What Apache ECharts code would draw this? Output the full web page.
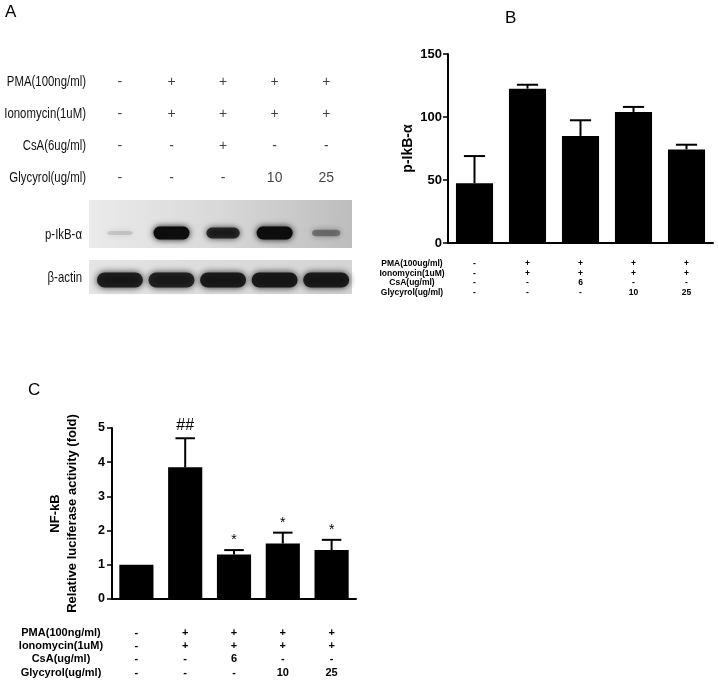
<!DOCTYPE html>
<html>
<head>
<meta charset="utf-8">
<script src="https://cdn.jsdelivr.net/npm/echarts@6/dist/echarts.min.js"></script>
<style>
  html, body { margin: 0; padding: 0; background: #fff; }
  #chart { width: 718px; height: 684px; }
</style>
</head>
<body>
<div id="chart"></div>
<script>
// lanes of the blot / groups of the bar charts
const lanes = [1, 2, 3, 4, 5];

// panel A - treatment table over the blot
const rowNamesA = ['PMA(100ng/ml)', 'Ionomycin(1uM)', 'CsA(6ug/ml)', 'Glycyrol(ug/ml)'];
const pmaA = ['-', '+', '+', '+', '+'];
const ionoA = ['-', '+', '+', '+', '+'];
const csaA = ['-', '-', '+', '-', '-'];
const glyA = ['-', '-', '-', '10', '25'];
const blotNames = ['p-IkB-α', 'β-actin'];

// panel A - band strength (0..1)
const pIkbBand = [0.12, 1.0, 0.78, 1.0, 0.36];
const actinBand = [0.9, 0.88, 0.92, 0.95, 0.92];

// panel B - p-IkB-a densitometry
const meansB = [47.5, 122.5, 85, 104, 74.3];
const errB = [21.5, 3.1, 12.4, 4, 3.7];
const rowNamesB = ['PMA(100ug/ml)', 'Ionomycin(1uM)', 'CsA(ug/ml)', 'Glycyrol(ug/ml)'];
const pmaB = ['-', '+', '+', '+', '+'];
const ionoB = ['-', '+', '+', '+', '+'];
const csaB = ['-', '-', '6', '-', '-'];
const glyB = ['-', '-', '-', '10', '25'];

// panel C - NF-kB luciferase
const meansC = [1.0, 3.85, 1.3, 1.62, 1.43];
const errC = [0, 0.85, 0.13, 0.32, 0.3];
const sigC = ['', '##', '*', '*', '*'];
const rowNamesC = ['PMA(100ng/ml)', 'Ionomycin(1uM)', 'CsA(ug/ml)', 'Glycyrol(ug/ml)'];
const pmaC = ['-', '+', '+', '+', '+'];
const ionoC = ['-', '+', '+', '+', '+'];
const csaC = ['-', '-', '6', '-', '-'];
const glyC = ['-', '-', '-', '10', '25'];

const arial = "'Liberation Sans', Arial, sans-serif";

// layout of panel A
const tableGrid = {left: 89, top: 66, width: 263, height: 128};
const pIkbGrid = {left: 89, top: 216, width: 263, height: 34};
const actinGrid = {left: 89, top: 263, width: 263, height: 34};

const chart = echarts.init(document.getElementById('chart'));

const colLabels = (rows) => lanes.map((_, i) => rows.map(r => r[i]).join('\n'));

const tableA = [];
[pmaA, ionoA, csaA, glyA].forEach((row, r) => {
  row.forEach((txt, i) => tableA.push({value: [lanes[i], r], name: txt}));
});

// tall narrow lettering of the blot panel
const narrowText = (text, x, y) => ({
  type: 'text', x, y, scaleX: 0.76, z: 10,
  style: {text, align: 'right', verticalAlign: 'middle', fontFamily: arial, fontSize: 15, fill: '#111'}
});

const rowLabelsA = rowNamesA.map((t, r) =>
  narrowText(t, tableGrid.left - 3, tableGrid.top + (r + 0.5) * tableGrid.height / rowNamesA.length));
const blotLabels = [
  narrowText(blotNames[0], 82, 235),
  narrowText(blotNames[1], 82, 278)
];

const bandPath = 'path://M5,0 L25,0 A5,5 0 0 1 25,10 L5,10 A5,5 0 0 1 5,0 Z';

const errRender = (sig) => (params, api) => {
  const i = api.value(0);
  const m = api.value(1);
  const e = api.value(2);
  const base = api.coord([i, m]);
  const top = api.coord([i, m + e]);
  const half = api.size([1, 0])[0] * 0.2;
  const children = [];
  if (e > 0) {
    children.push(
      {type: 'line', shape: {x1: top[0], y1: top[1], x2: base[0], y2: base[1]}, style: {stroke: '#000', lineWidth: 2}},
      {type: 'line', shape: {x1: top[0] - half, y1: top[1], x2: top[0] + half, y2: top[1]}, style: {stroke: '#000', lineWidth: 2}}
    );
  }
  if (sig && sig[params.dataIndex]) {
    const s = sig[params.dataIndex];
    children.push({
      type: 'text',
      style: {
        text: s, x: top[0], y: top[1] - (s === '##' ? 5 : 3), align: 'center', verticalAlign: 'bottom',
        fontFamily: arial, fontSize: s === '##' ? 16 : 14, fill: '#000'
      }
    });
  }
  return {type: 'group', children};
};

const hiddenLane = (g) => ({gridIndex: g, type: 'value', min: 0.4, max: 5.5, show: false});
const hiddenRow = (g, n) => ({
  gridIndex: g, type: 'category', inverse: true, data: Array.from({length: n}, (_, k) => k), show: false
});

const barXAxis = (g, rows, fontSize, lineHeight, margin) => ({
  gridIndex: g, type: 'category', data: colLabels(rows),
  axisLine: {lineStyle: {color: '#000', width: 2}},
  axisTick: {alignWithLabel: true, length: 5, lineStyle: {color: '#000', width: 1.5}},
  axisLabel: {interval: 0, margin, fontFamily: arial, fontWeight: 'bold', fontSize, lineHeight, color: '#000'}
});

const option = {
  backgroundColor: '#fff',
  animation: false,
  grid: [
    tableGrid, pIkbGrid, actinGrid,
    {left: 448, top: 54, width: 265, height: 189},
    {left: 112, top: 428, width: 244, height: 171}
  ],
  xAxis: [
    hiddenLane(0), hiddenLane(1), hiddenLane(2),
    barXAxis(3, [pmaB, ionoB, csaB, glyB], 8.5, 9.5, 16),
    barXAxis(4, [pmaC, ionoC, csaC, glyC], 11, 13.3, 27)
  ],
  yAxis: [
    hiddenRow(0, rowNamesA.length),
    hiddenRow(1, 1),
    hiddenRow(2, 1),
    {
      gridIndex: 3, type: 'value', min: 0, max: 150, interval: 50,
      name: 'p-IkB-α', nameLocation: 'middle', nameGap: 33,
      nameTextStyle: {fontFamily: arial, fontWeight: 'bold', fontSize: 14, color: '#000'},
      axisLine: {show: true, lineStyle: {color: '#000', width: 2}},
      axisTick: {show: true, length: 5, lineStyle: {color: '#000', width: 1.5}},
      splitLine: {show: false},
      axisLabel: {margin: 6, fontFamily: arial, fontWeight: 'bold', fontSize: 13, color: '#000'}
    },
    {
      gridIndex: 4, type: 'value', min: 0, max: 5, interval: 1,
      name: 'NF-kB\nRelative luciferase activity (fold)', nameLocation: 'middle', nameGap: 31,
      nameTextStyle: {fontFamily: arial, fontWeight: 'bold', fontSize: 13, lineHeight: 17, color: '#000'},
      axisLine: {show: true, lineStyle: {color: '#000', width: 2}},
      axisTick: {show: true, length: 5, lineStyle: {color: '#000', width: 1.5}},
      splitLine: {show: false},
      axisLabel: {margin: 7, fontFamily: arial, fontWeight: 'bold', fontSize: 12.5, color: '#000'}
    }
  ],
  graphic: [
    {type: 'text', left: 5, top: 4, z: 10, style: {text: 'A', fontFamily: arial, fontSize: 17, fill: '#000'}},
    {type: 'text', left: 505, top: 10, z: 10, style: {text: 'B', fontFamily: arial, fontSize: 17, fill: '#000'}},
    {type: 'text', left: 28, top: 382, z: 10, style: {text: 'C', fontFamily: arial, fontSize: 17, fill: '#000'}},
    {
      type: 'rect', z: -1, shape: {x: 89, y: 200, width: 263, height: 48},
      style: {fill: new echarts.graphic.LinearGradient(0, 0, 1, 0, [
        {offset: 0, color: '#ebebeb'}, {offset: 0.5, color: '#d8d8d8'}, {offset: 1, color: '#bdbdbd'}
      ])}
    },
    {
      type: 'rect', z: -1, shape: {x: 89, y: 260, width: 263, height: 34},
      style: {fill: new echarts.graphic.LinearGradient(0, 0, 1, 0, [
        {offset: 0, color: '#e4e4e4'}, {offset: 1, color: '#d4d4d4'}
      ])}
    },
    ...rowLabelsA,
    ...blotLabels,
    {
      type: 'text', x: 412, y: 259, z: 10,
      style: {text: rowNamesB.join('\n'), align: 'center', verticalAlign: 'top', lineHeight: 9.5,
        fontFamily: arial, fontWeight: 'bold', fontSize: 8.5, fill: '#000'}
    },
    {
      type: 'text', x: 61, y: 626, z: 10,
      style: {text: rowNamesC.join('\n'), align: 'center', verticalAlign: 'top', lineHeight: 13.3,
        fontFamily: arial, fontWeight: 'bold', fontSize: 11, fill: '#000'}
    }
  ],
  series: [
    {
      type: 'scatter', xAxisIndex: 0, yAxisIndex: 0, data: tableA,
      symbolSize: 1, itemStyle: {color: 'rgba(0,0,0,0)'},
      label: {show: true, position: 'inside', formatter: '{b}', fontFamily: arial, fontSize: 14, color: '#111'}
    },
    {
      type: 'scatter', xAxisIndex: 1, yAxisIndex: 1, symbol: bandPath,
      data: pIkbBand.map((v, i) => ({value: [lanes[i], 0], symbolSize: [24 + 12 * v, 3 + 10 * v], itemStyle: {opacity: v}})),
      itemStyle: {color: '#0d0d0d', shadowBlur: 6, shadowColor: '#0d0d0d'}
    },
    {
      type: 'scatter', xAxisIndex: 2, yAxisIndex: 2, symbol: bandPath,
      data: actinBand.map((v, i) => ({value: [lanes[i], 0], symbolSize: [46, 15], itemStyle: {opacity: v}})),
      itemStyle: {color: '#141414', shadowBlur: 7, shadowColor: '#141414'}
    },
    {
      type: 'bar', xAxisIndex: 3, yAxisIndex: 3, data: meansB, barWidth: '70%',
      itemStyle: {color: '#000'}
    },
    {
      type: 'custom', xAxisIndex: 3, yAxisIndex: 3, z: 5,
      data: meansB.map((m, i) => [i, m, errB[i]]),
      renderItem: errRender(null)
    },
    {
      type: 'bar', xAxisIndex: 4, yAxisIndex: 4, data: meansC, barWidth: '70%',
      itemStyle: {color: '#000'}
    },
    {
      type: 'custom', xAxisIndex: 4, yAxisIndex: 4, z: 5,
      data: meansC.map((m, i) => [i, m, errC[i]]),
      renderItem: errRender(sigC)
    }
  ]
};

chart.setOption(option);
</script>
</body>
</html>
